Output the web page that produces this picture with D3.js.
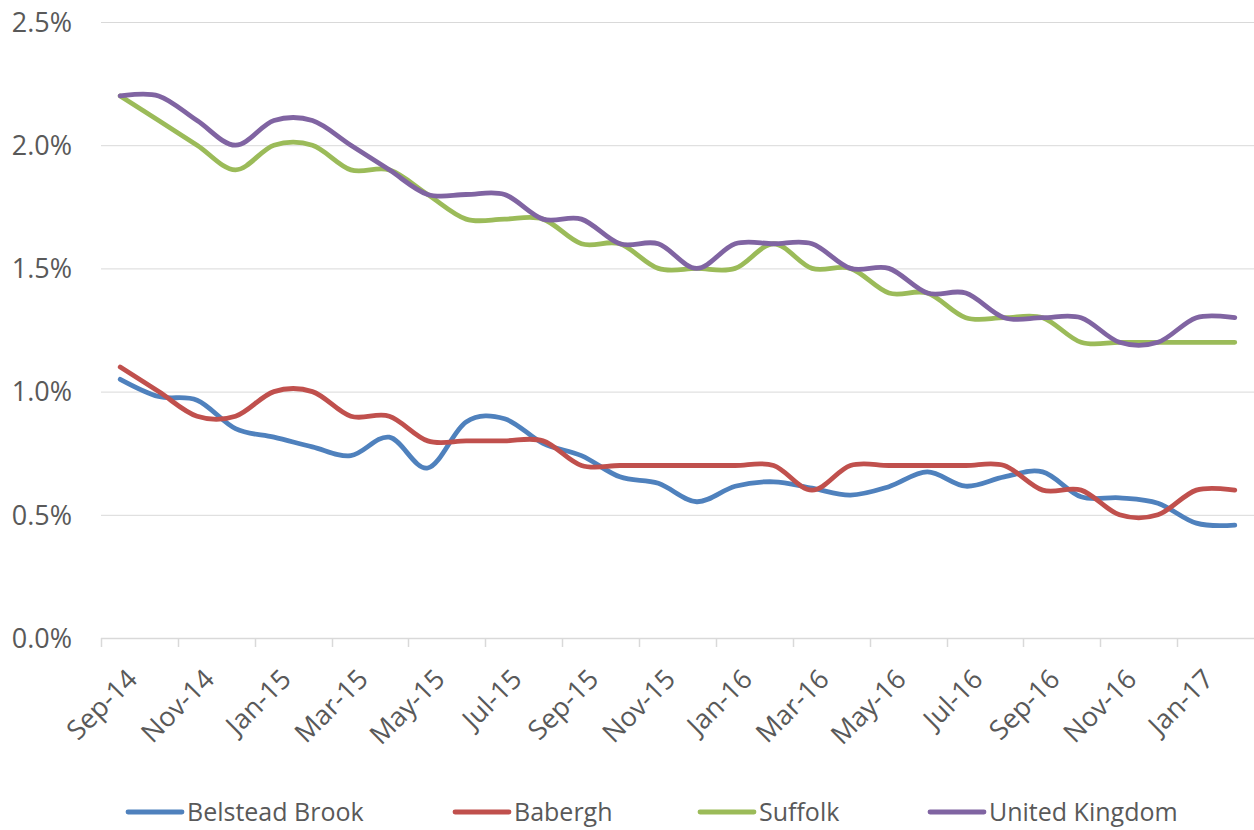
<!DOCTYPE html>
<html>
<head>
<meta charset="utf-8">
<script src="https://cdn.jsdelivr.net/npm/d3@7"></script>
<style>
  body { margin: 0; background: #fff; }
  svg { display: block; font-family: "Open Sans", sans-serif; }
</style>
</head>
<body>
<div id="chart"></div>
<script>
// months Sep-14 .. Feb-17
const months = ["Sep-14","Oct-14","Nov-14","Dec-14",
  "Jan-15","Feb-15","Mar-15","Apr-15","May-15","Jun-15","Jul-15","Aug-15","Sep-15","Oct-15","Nov-15","Dec-15",
  "Jan-16","Feb-16","Mar-16","Apr-16","May-16","Jun-16","Jul-16","Aug-16","Sep-16","Oct-16","Nov-16","Dec-16",
  "Jan-17","Feb-17"];

const belsteadBrook = [1.05,0.98,0.965,0.85,0.815,0.776,0.74,0.815,0.69,0.877,0.89,0.79,0.74,0.654,0.628,0.553,
  0.616,0.634,0.608,0.58,0.614,0.674,0.616,0.654,0.674,0.573,0.569,0.547,0.466,0.458];
const babergh = [1.1,1.0,0.9,0.9,1.0,1.0,0.9,0.9,0.8,0.8,0.8,0.8,0.7,0.7,0.7,0.7,
  0.7,0.7,0.6,0.7,0.7,0.7,0.7,0.7,0.6,0.6,0.5,0.5,0.6,0.6];
const suffolk = [2.2,2.1,2.0,1.9,2.0,2.0,1.9,1.9,1.8,1.7,1.7,1.7,1.6,1.6,1.5,1.5,
  1.5,1.6,1.5,1.5,1.4,1.4,1.3,1.3,1.3,1.2,1.2,1.2,1.2,1.2];
const unitedKingdom = [2.2,2.2,2.1,2.0,2.1,2.1,2.0,1.9,1.8,1.8,1.8,1.7,1.7,1.6,1.6,1.5,
  1.6,1.6,1.6,1.5,1.5,1.4,1.4,1.3,1.3,1.3,1.2,1.2,1.3,1.3];

const seriesNames = ["Belstead Brook","Babergh","Suffolk","United Kingdom"];
const seriesColors = ["#4F81BD","#C0504D","#9BBB59","#8064A2"];
const yTicks = [0,0.5,1.0,1.5,2.0,2.5];

const series = [belsteadBrook, babergh, suffolk, unitedKingdom].map((vals, i) => ({
  name: seriesNames[i],
  color: seriesColors[i],
  values: vals.map((v, j) => ({ month: months[j], value: v }))
}));

const width = 1254, height = 830;
const svg = d3.select("#chart").append("svg")
  .attr("width", width)
  .attr("height", height);

const x = d3.scaleBand()
  .domain(months)
  .range([101, 1254]);

const y = d3.scaleLinear()
  .domain([0, 2.5])
  .range([638, 22]);

// gridlines
svg.append("g")
  .selectAll("line")
  .data(yTicks.filter(d => d > 0))
  .join("line")
  .attr("x1", 101)
  .attr("x2", width)
  .attr("y1", d => y(d) + 0.5)
  .attr("y2", d => y(d) + 0.5)
  .attr("stroke", "#D9D9D9")
  .attr("stroke-width", 1);

// y labels
svg.append("g")
  .selectAll("text")
  .data(yTicks)
  .join("text")
  .attr("x", 72)
  .attr("y", d => y(d))
  .attr("dy", "0.36em")
  .attr("text-anchor", "end")
  .attr("font-size", 27)
  .attr("fill", "#595959")
  .text(d => d.toFixed(1) + "%");

// x axis line + ticks
const xAxisG = svg.append("g");
xAxisG.append("line")
  .attr("x1", 101)
  .attr("x2", width)
  .attr("y1", 638.5)
  .attr("y2", 638.5)
  .attr("stroke", "#D9D9D9")
  .attr("stroke-width", 1.5);

const tickMonths = months.filter((m, i) => i % 2 === 0);
xAxisG.selectAll("line.tick")
  .data(tickMonths)
  .join("line")
  .attr("class", "tick")
  .attr("x1", d => Math.round(x(d)) + 0.5)
  .attr("x2", d => Math.round(x(d)) + 0.5)
  .attr("y1", 638)
  .attr("y2", 647)
  .attr("stroke", "#D9D9D9")
  .attr("stroke-width", 1.5);

xAxisG.selectAll("text")
  .data(tickMonths)
  .join("text")
  .attr("text-anchor", "end")
  .attr("font-size", 27)
  .attr("fill", "#595959")
  .attr("transform", d => `translate(${x(d) + x.bandwidth() / 2 + 5},${667}) rotate(-45)`)
  .attr("dy", "0.72em")
  .text(d => d);

// lines
const line = d3.line()
  .x(d => x(d.month) + x.bandwidth() / 2)
  .y(d => y(d.value))
  .curve(d3.curveCardinal.tension(0));

svg.append("g")
  .selectAll("path")
  .data(series)
  .join("path")
  .attr("d", d => line(d.values))
  .attr("fill", "none")
  .attr("stroke", d => d.color)
  .attr("stroke-width", 4.8)
  .attr("stroke-linecap", "round")
  .attr("stroke-linejoin", "round");

// legend
const legendX = [128, 455, 700, 930];
const legend = svg.append("g")
  .selectAll("g")
  .data(series)
  .join("g")
  .attr("transform", (d, i) => `translate(${legendX[i]},812)`);

legend.append("line")
  .attr("x1", 0)
  .attr("x2", 54)
  .attr("stroke", d => d.color)
  .attr("stroke-width", 4.8)
  .attr("stroke-linecap", "round");

legend.append("text")
  .attr("x", 59)
  .attr("dy", "0.36em")
  .attr("font-size", 25)
  .attr("fill", "#595959")
  .text(d => d.name);
</script>
</body>
</html>
